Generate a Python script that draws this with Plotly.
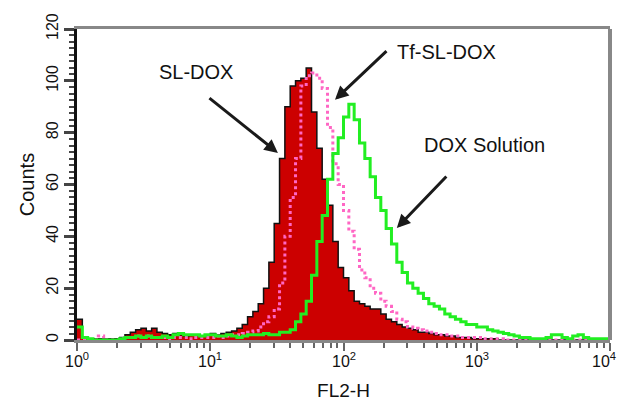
import math
import plotly.graph_objects as go

# FL2-H channel bins (left edges, log10 units, 0.04-decade bins from 10^0 to 10^4)
log_bins = [round(i * 0.04, 2) for i in range(101)]
fl2_bins = [10 ** v for v in log_bins]

sl_dox = [8, 1, 0.5, 0.5, 0.5, 0.5, 0.5, 0.5, 1, 2,
          3, 4, 4.5, 3.5, 4.5, 3, 2.5, 2, 2.5, 2,
          1.5, 2, 2, 1.5, 2, 2.5, 2, 2.5, 3, 3.5,
          4.5, 6, 9, 11, 14, 20, 30, 45, 70, 90,
          98, 100, 101, 105, 88, 74, 62, 52, 38, 28,
          24, 19, 15, 14, 13, 12, 12, 10, 8, 7,
          6, 5, 4.5, 4, 3, 3, 2.5, 2, 2, 1.5,
          1.5, 1, 1, 1, 0.5, 0.5, 0.5, 0.5, 0.5, 0,
          0, 0, 0, 0, 0, 0, 0, 0, 0, 0,
          0, 0, 0, 0, 0, 0, 0, 0, 0, 0, 0]

tf_sl_dox = [0, 0, 0, 0, 1.5, 0, 0, 0, 0.5, 1,
             1, 1.5, 1, 1.5, 1, 1, 1, 0.5, 1, 1,
             1, 0.5, 1, 1, 1, 1, 1.5, 1, 1.5, 2,
             2, 2.5, 3, 3.5, 5, 7, 9, 12, 22, 40,
             55, 70, 98, 102, 103, 101, 97, 82, 68, 60,
             50, 42, 35, 27, 24, 20, 18, 15, 13, 11,
             8, 7, 5, 4.5, 4, 3.5, 3, 2.5, 2, 2,
             1.5, 1.5, 1, 1, 1, 1, 0.5, 0.5, 0.5, 0.5,
             0, 0, 0, 0, 0, 0, 0, 0, 0, 0,
             0, 0, 0, 0, 0, 0, 0, 0, 0, 0, 0]

dox_solution = [5, 1, 0.5, 0, 0, 0, 0, 0, 0.5, 1,
                1, 1.5, 1, 1.5, 1, 1, 1.5, 1, 2, 2.5,
                2, 2, 2, 1.5, 2, 2, 1.5, 1.5, 2, 1.5,
                1, 1.5, 2, 2, 2, 2.5, 2, 2, 3, 3,
                4, 7, 10, 15, 25, 38, 48, 62, 72, 78,
                86, 91, 85, 76, 70, 63, 55, 50, 43, 37,
                30, 26, 22, 20, 18, 16, 14, 13, 12, 10,
                9, 8, 7, 6, 6, 5, 5, 4, 3.5, 3,
                2.5, 2, 1.5, 1, 1, 0.5, 0.5, 0.5, 1, 2,
                2, 1, 0.5, 1.5, 2, 1, 0.5, 0.5, 0.5, 0.5, 0.5]

x_tick_vals = [1, 10, 100, 1000, 10000]
x_tick_text = ["10<sup>0</sup>", "10<sup>1</sup>", "10<sup>2</sup>", "10<sup>3</sup>", "10<sup>4</sup>"]
y_tick_vals = [0, 20, 40, 60, 80, 100, 120]

FONT = "Liberation Sans, Arial, sans-serif"

fig = go.Figure()
fig.add_trace(go.Scatter(x=fl2_bins, y=sl_dox, mode="lines", line_shape="hv",
                         line=dict(color="#111111", width=1.5),
                         fill="tozeroy", fillcolor="#cc0000", name="SL-DOX"))
fig.add_trace(go.Scatter(x=fl2_bins, y=tf_sl_dox, mode="lines", line_shape="hv",
                         line=dict(color="#ff66c4", width=3, dash="dot"), name="Tf-SL-DOX"))
fig.add_trace(go.Scatter(x=fl2_bins, y=dox_solution, mode="lines", line_shape="hv",
                         line=dict(color="#22ee22", width=3), name="DOX Solution"))

minor_x = [m * 10 ** d for d in range(4) for m in range(2, 10)]

fig.update_layout(
    width=620, height=405,
    margin=dict(l=77, r=10, t=29, b=65),
    paper_bgcolor="white", plot_bgcolor="white",
    showlegend=False,
    font=dict(family=FONT, color="#111111", size=15),
    xaxis=dict(type="log", range=[0, 4], tickvals=x_tick_vals, showticklabels=False,
               ticks="outside", ticklen=8, tickwidth=2, tickcolor="#666666",
               minor=dict(tickvals=minor_x, ticks="outside", ticklen=5, tickwidth=1.5, tickcolor="#666666"),
               showline=True, linecolor="#888888", linewidth=3, mirror=True,
               showgrid=False, zeroline=False, automargin=False,
               title=dict(text="FL2-H", font=dict(size=19), standoff=34)),
    yaxis=dict(range=[0, 120], tickvals=y_tick_vals, tickangle=-90,
               ticks="outside", ticklen=10, tickwidth=2.5, tickcolor="#444444",
               minor=dict(dtick=2.5, ticks="outside", ticklen=5, tickwidth=1.5, tickcolor="#444444"),
               showline=True, linecolor="#111111", linewidth=2.5,
               showgrid=False, zeroline=False, automargin=False,
               tickfont=dict(size=16),
               title=dict(text="Counts", font=dict(size=20), standoff=4)),
    shapes=[dict(type="line", xref="paper", yref="paper", x0=1, x1=1, y0=0, y1=1,
                 line=dict(color="#888888", width=4))],
)

# x tick labels (drawn as annotations so the right-most one is not dropped at the edge)
for i, (v, t) in enumerate(zip(x_tick_vals, x_tick_text)):
    last = i == len(x_tick_vals) - 1
    fig.add_annotation(x=math.log10(v), y=0, xref="x", yref="paper", text=t, showarrow=False,
                       xanchor="right" if last else "center", xshift=8 if last else 0,
                       yanchor="top", yshift=-8, font=dict(size=16, family=FONT, color="#111111"))

arrow_style = dict(showarrow=True, arrowhead=2, arrowsize=0.9, arrowwidth=3,
                   arrowcolor="#1a1a1a", text="", xref="x", yref="y")
fig.add_annotation(x=1.508, y=72.2, ax=-70, ay=-56, **arrow_style)
fig.add_annotation(x=1.936, y=92.7, ax=53, ay=-50, **arrow_style)
fig.add_annotation(x=2.40, y=43.2, ax=51, ay=-53, **arrow_style)

label_style = dict(showarrow=False, xref="x", yref="y", font=dict(size=20, family=FONT, color="#111111"))
fig.add_annotation(x=0.893, y=103.5, text="SL-DOX", **label_style)
fig.add_annotation(x=2.77, y=111.0, text="Tf-SL-DOX", **label_style)
fig.add_annotation(x=3.06, y=75.3, text="DOX Solution", **label_style)

fig.write_html("out.html", config={"displayModeBar": False},
               post_script="document.body.style.margin='0';document.body.style.overflow='hidden';")
